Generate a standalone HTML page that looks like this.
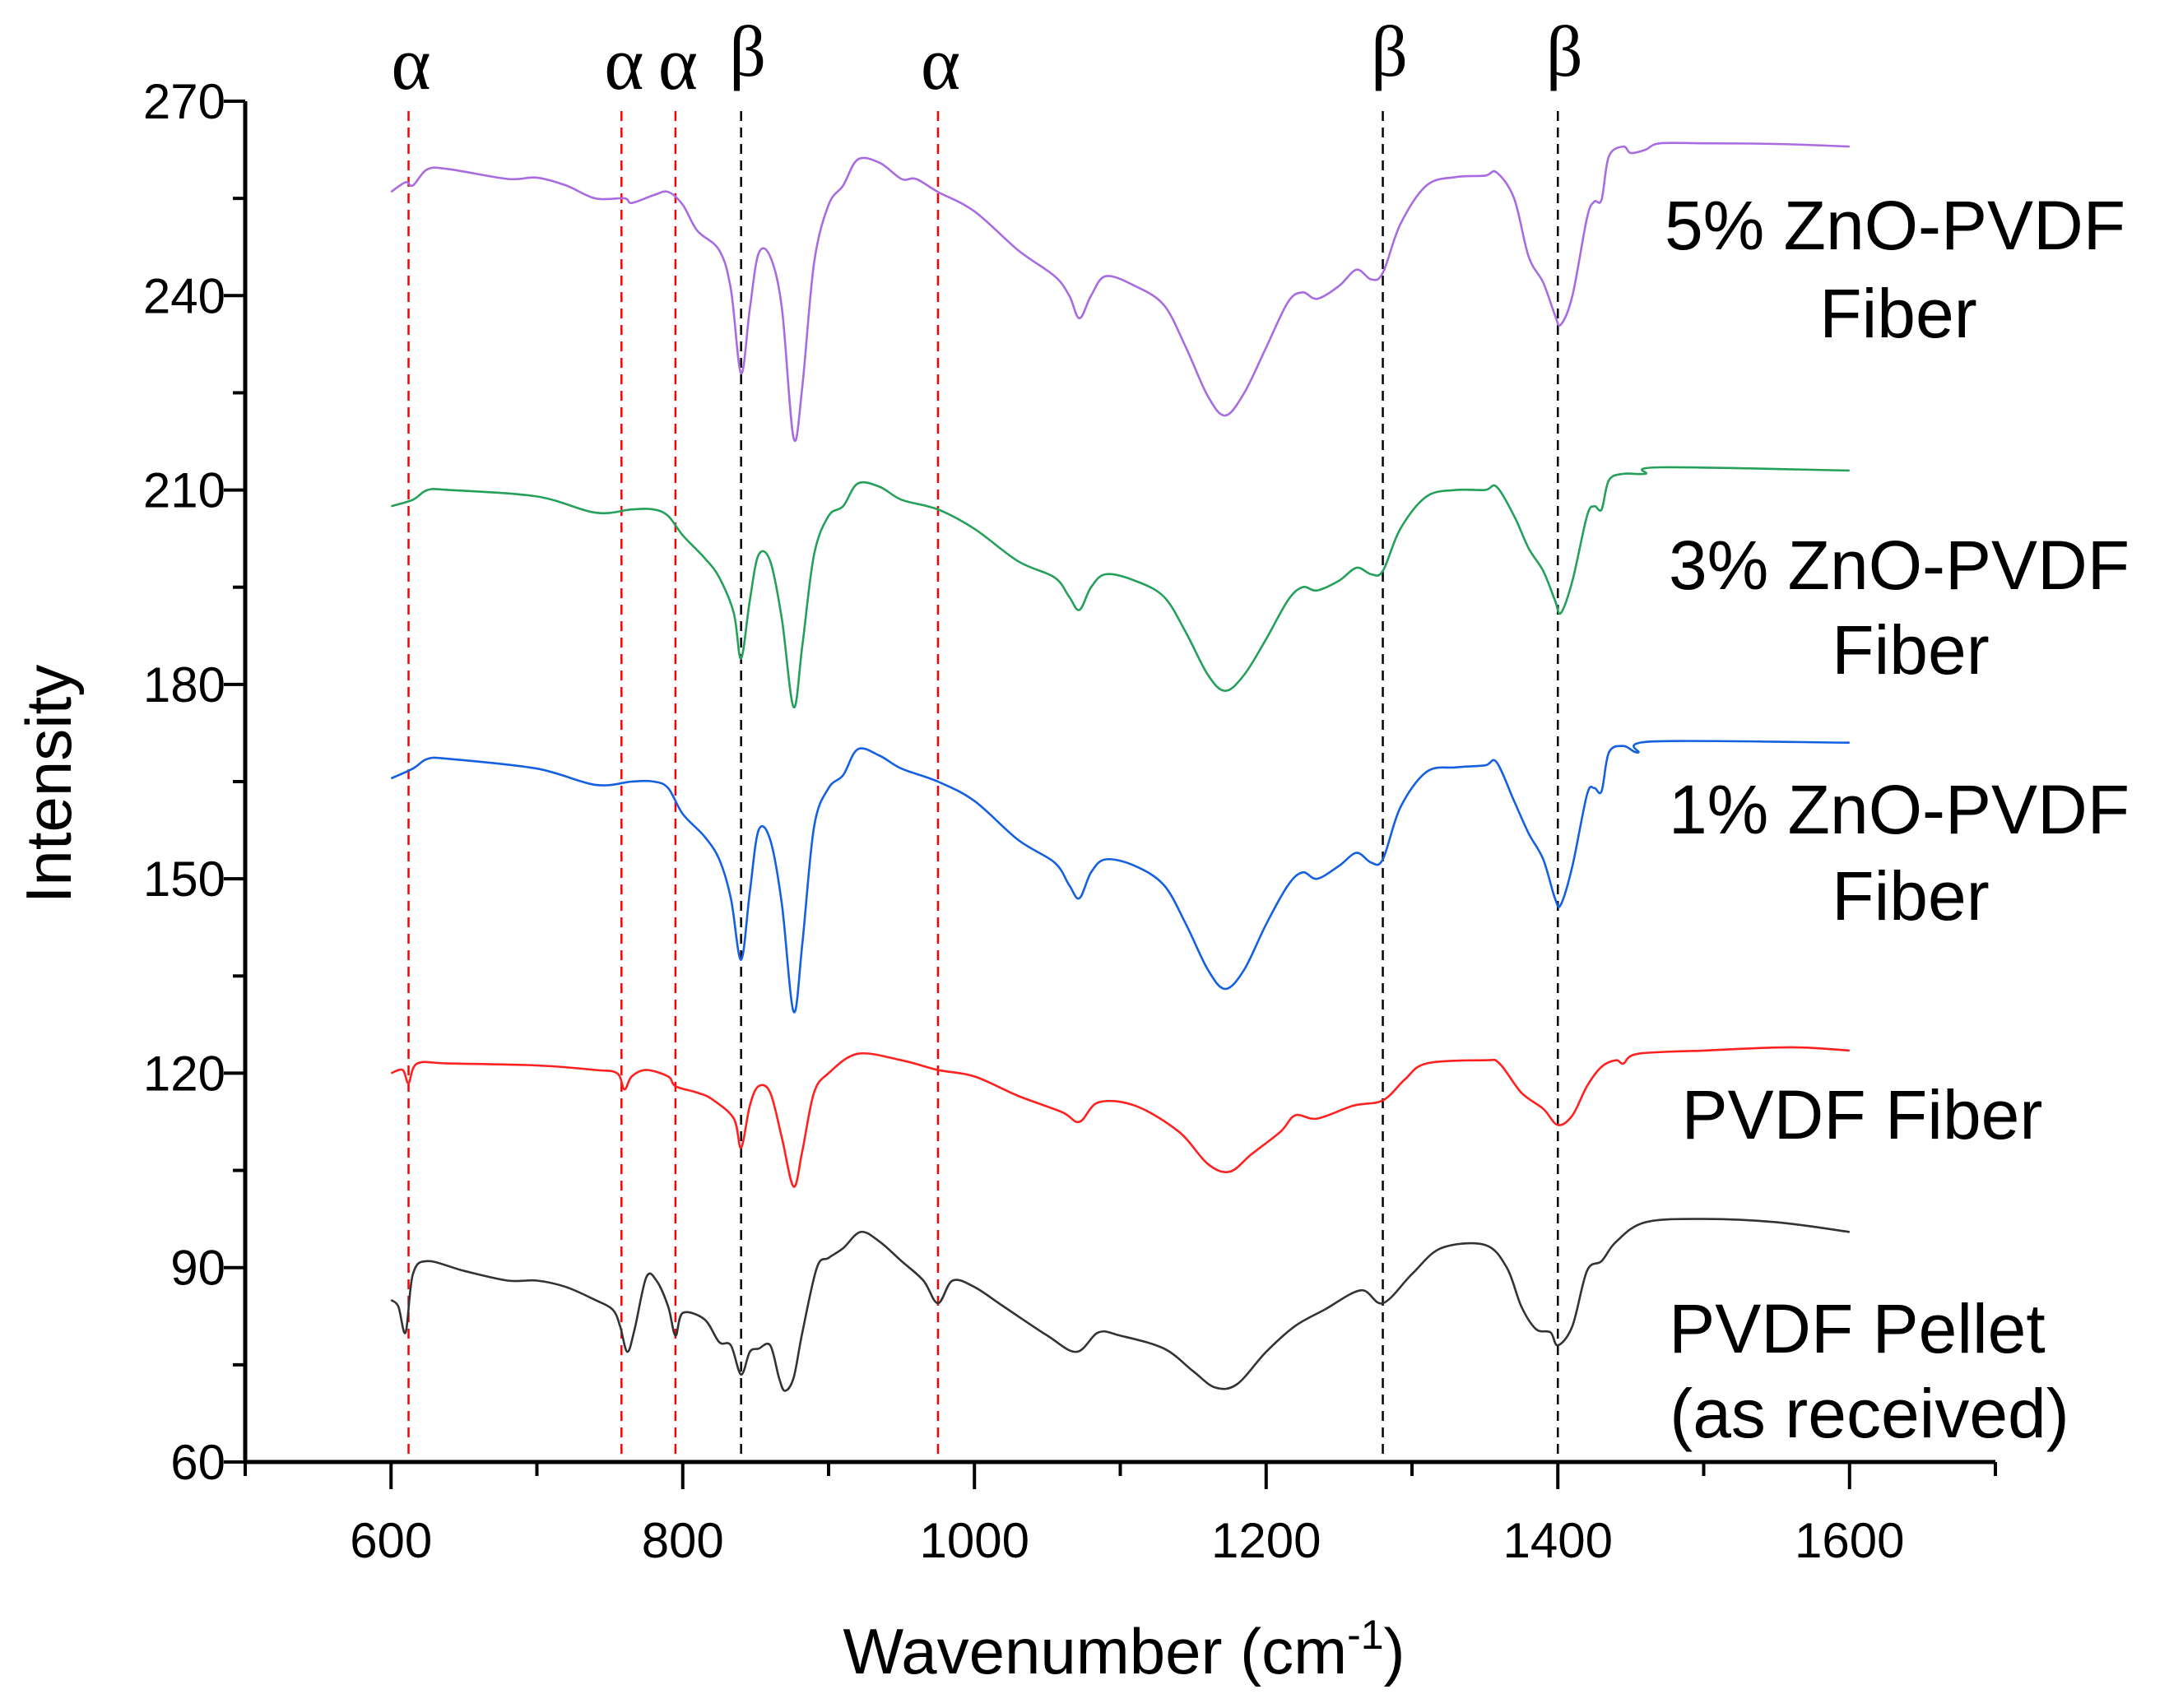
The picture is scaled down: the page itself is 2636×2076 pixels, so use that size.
<!DOCTYPE html>
<html><head><meta charset="utf-8"><style>
html,body{margin:0;padding:0;background:#fff}
svg{display:block}
text{font-family:"Liberation Sans",sans-serif;fill:#000}
</style></head><body>
<svg id="chart" width="2636" height="2076" viewBox="0 0 2636 2076" xmlns="http://www.w3.org/2000/svg"></svg>
<script>
const xTicksMajor = [600, 800, 1000, 1200, 1400, 1600];
const xTicksMinor = [500, 700, 900, 1100, 1300, 1500, 1700];
const yTicksMajor = [60, 90, 120, 150, 180, 210, 240, 270];
const yTicksMinor = [75, 105, 135, 165, 195, 225, 255];
const alphaLines = [612, 758, 795, 975];
const betaLines = [840, 1280, 1400];

const wn5 = [600,610,615,625,640,680,700,720,740,760,765,780,790,800,810,825,833,840,846,852,860,868,876,882,890,900,910,920,935,950,960,975,1000,1030,1055,1065,1072,1080,1090,1110,1130,1145,1160,1172,1185,1200,1215,1225,1235,1250,1262,1272,1280,1292,1310,1330,1350,1358,1370,1380,1390,1398,1402,1410,1420,1425,1430,1435,1445,1450,1460,1470,1500,1550,1600];
const int5 = [256,257.5,257,259.5,259.5,258,258.2,257,255,255,254.3,255.5,256,254,250,247,241,228,238,246.5,246,238,218,226,245,254,257,261,260.5,258,258,256,253,247,243,240,236.5,240,243,241.5,238.5,232,224.5,221.5,225,232,239,240.5,239.5,241.5,244,242.5,243.5,251,257,258.3,258.5,259,255,246,242,237,235.5,240,252,254.5,254.8,261.5,263,262,262.5,263.5,263.5,263.4,263];

const wn3 = [600,615,625,640,700,740,765,780,790,800,815,825,835,840,846,852,860,868,876,882,890,900,910,920,935,950,975,1000,1030,1055,1065,1072,1080,1090,1110,1130,1145,1160,1172,1185,1200,1215,1225,1235,1250,1262,1272,1280,1292,1310,1330,1350,1358,1370,1380,1390,1398,1402,1410,1420,1425,1430,1435,1445,1460,1470,1600];
const int3 = [207.5,208.5,210,210,209,206.5,207,207,206,203,199.5,196.5,191,184,193,200,199,190,176.5,186,200,206,207.5,211,210.5,208.5,207,204,199,196.5,193.5,191.5,195,197,196,193.5,188,181.5,179,181.5,187,193,195,194.5,196,198,197,197.5,204,209,210,210,210.5,206,201,197.5,193,191,196,206,207.5,207,211.5,212.5,212.5,213.5,213];

const wn1 = [600,615,625,640,700,740,765,780,790,800,815,825,833,840,846,852,860,868,876,882,890,900,910,920,935,950,975,1000,1030,1055,1065,1072,1080,1090,1110,1130,1145,1160,1172,1185,1200,1215,1225,1235,1250,1262,1272,1280,1292,1310,1330,1350,1358,1370,1380,1390,1398,1402,1410,1420,1425,1430,1435,1445,1455,1465,1600];
const int1 = [165.5,167,168.5,168.5,167,164.5,165,165,164,160,156.5,153,147,137.5,148,157.5,156,146,129.5,140,158,164,166,170,169,167,165,162,156,152.5,149,147,151,153,152,149,143,136,133,136,143,149,151,150,152,154,152.5,153,161,166.5,167.2,167.5,168,162,157,153,147,146,152,163,164,163.5,169.5,170.5,169.5,171.2,171];

const wnF = [600,608,612,618,640,700,740,755,760,765,775,790,795,810,820,835,840,846,852,860,868,876,882,890,900,920,950,975,1000,1030,1060,1072,1085,1110,1140,1160,1175,1190,1210,1220,1235,1260,1280,1295,1310,1350,1360,1375,1390,1400,1410,1420,1430,1440,1445,1455,1500,1560,1600];
const intF = [120,120.5,118.5,121.5,121.5,121.2,120.5,120,117.5,119.5,120.5,119.5,118,117,116,113,108.5,115,118,117,110,102.5,108,117,120,123,122,120.5,119.5,116.5,114,112.5,115.5,115,111,106,104.8,107.5,111,113.5,113,115,115.8,119,121.5,122,121.5,117,114.5,112,113.5,118,121,122,121.5,123,123.5,124,123.5];

const wnP = [600,605,610,615,625,650,680,700,720,740,752,757,762,767,775,782,790,795,800,815,825,833,840,846,852,860,866,870,876,882,892,900,910,922,935,950,965,975,985,1000,1020,1050,1070,1085,1100,1130,1150,1165,1180,1200,1220,1240,1265,1280,1300,1320,1350,1365,1375,1385,1395,1400,1410,1420,1430,1440,1460,1500,1550,1600];
const intP = [85,84,80,89,91,89.5,88,88,87,85,83.5,81,77,80.5,88.5,88,84,79.5,83,82,78.5,78,73.5,77,77.5,78,73,71,73,80,90,91.5,93,95.5,94,91,88,84.5,88,87,84,79.5,77,80,79.5,77.5,74,71.5,72,77,81,83.5,86.5,84.5,89,93,93.5,90,84,80.5,80,78,81,89.5,91,94,97,97.5,97,95.5];

const X0=298, X1=2425, XMIN=500, XMAX=1700;
const Y0=1777, Y1=123, YMIN=60, YMAX=270;
function sx(v){return X0+(v-XMIN)*(X1-X0)/(XMAX-XMIN);}
function sy(v){return Y0-(v-YMIN)*(Y0-Y1)/(YMAX-YMIN);}
const NS="http://www.w3.org/2000/svg";
const svg=document.getElementById('chart');
function mk(tag,attrs,parent){const e=document.createElementNS(NS,tag);for(const k in attrs)e.setAttribute(k,attrs[k]);(parent||svg).appendChild(e);return e;}

alphaLines.forEach(v=>{
  const l=mk('line',{x1:sx(v),x2:sx(v),y1:135,y2:Y0,stroke:'#ff0000','stroke-width':2.5,'stroke-dasharray':'12,8'});
  
  
  const t=mk('text',{x:sx(v)+3,y:108,'text-anchor':'middle','font-size':92,style:'font-family:"Liberation Serif",serif'});
  t.textContent='α';
  
  
});
betaLines.forEach(v=>{
  const l=mk('line',{x1:sx(v),x2:sx(v),y1:135,y2:Y0,stroke:'#000','stroke-width':2.5,'stroke-dasharray':'12,8'});
  
  
  const t=mk('text',{x:sx(v)+8,y:92,'text-anchor':'middle','font-size':88,style:'font-family:"Liberation Serif",serif'});
  t.textContent='β';
  
  
});

function series(wn,vals,color,name){
  const P=wn.map((w,i)=>[sx(w),sy(vals[i])]);
  let d='M'+P[0][0].toFixed(1)+','+P[0][1].toFixed(1);
  for(let i=0;i<P.length-1;i++){
    const p0=P[Math.max(0,i-1)],p1=P[i],p2=P[i+1],p3=P[Math.min(P.length-1,i+2)];
    const t=1/6;
    const c1=[p1[0]+(p2[0]-p0[0])*t,p1[1]+(p2[1]-p0[1])*t];
    const c2=[p2[0]-(p3[0]-p1[0])*t,p2[1]-(p3[1]-p1[1])*t];
    d+=' C'+c1[0].toFixed(1)+','+c1[1].toFixed(1)+' '+c2[0].toFixed(1)+','+c2[1].toFixed(1)+' '+p2[0].toFixed(1)+','+p2[1].toFixed(1);
  }
  const p=mk('path',{d:d,fill:'none',stroke:color,'stroke-width':2.6,'stroke-linejoin':'round'});
  
  
}
series(wn5,int5,'#a86ce0','series-5pct-zno-pvdf-fiber');
series(wn3,int3,'#25a05a','series-3pct-zno-pvdf-fiber');
series(wn1,int1,'#1560e0','series-1pct-zno-pvdf-fiber');
series(wnF,intF,'#ff2020','series-pvdf-fiber');
series(wnP,intP,'#333333','series-pvdf-pellet');

const ya=mk('line',{x1:X0,x2:X0,y1:Y1,y2:Y0+2,stroke:'#000','stroke-width':5});


const xa=mk('line',{x1:X0-2,x2:X1,y1:Y0,y2:Y0,stroke:'#000','stroke-width':5});



yTicksMajor.forEach(v=>{
  const t=mk('line',{x1:X0-26,x2:X0,y1:sy(v),y2:sy(v),stroke:'#000','stroke-width':4});
  
  
  const l=mk('text',{x:X0-24,y:sy(v)+21,'text-anchor':'end','font-size':60});
  l.textContent=v;
  
  
});
yTicksMinor.forEach(v=>{
  const t=mk('line',{x1:X0-15,x2:X0,y1:sy(v),y2:sy(v),stroke:'#000','stroke-width':4});
  
  
});
xTicksMajor.forEach(v=>{
  const t=mk('line',{x1:sx(v),x2:sx(v),y1:Y0,y2:Y0+33,stroke:'#000','stroke-width':4});
  
  
  const l=mk('text',{x:sx(v),y:1893,'text-anchor':'middle','font-size':60});
  l.textContent=v;
  
  
});
xTicksMinor.forEach(v=>{
  const t=mk('line',{x1:sx(v),x2:sx(v),y1:Y0,y2:Y0+17,stroke:'#000','stroke-width':4});
  
  
});
</script>
<svg style="position:absolute;left:0;top:0" width="2636" height="2076">
  <text x="1366" y="2034" text-anchor="middle" font-size="78">Wavenumber (cm<tspan dy="-30" font-size="50">-1</tspan><tspan dy="30">)</tspan></text>
  <text transform="translate(86,953) rotate(-90)" text-anchor="middle" font-size="78">Intensity</text>
  <g font-size="84" text-anchor="middle">
    <text x="2303" y="303">5% ZnO-PVDF</text>
    <text x="2307" y="410">Fiber</text>
    <text x="2308" y="716">3% ZnO-PVDF</text>
    <text x="2322" y="819">Fiber</text>
    <text x="2308" y="1013">1% ZnO-PVDF</text>
    <text x="2322" y="1118">Fiber</text>
    <text x="2263" y="1384">PVDF Fiber</text>
    <text x="2257" y="1644">PVDF Pellet</text>
    <text x="2272" y="1747">(as received)</text>
  </g>
</svg>
</body></html>
